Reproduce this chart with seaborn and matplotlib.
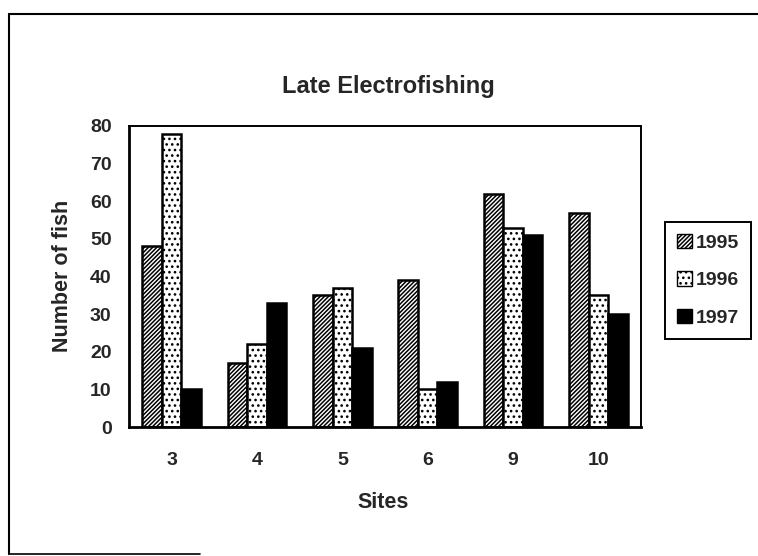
import matplotlib
matplotlib.use("Agg")
import matplotlib.pyplot as plt
import seaborn as sns
import pandas as pd
from matplotlib.patches import Patch
from matplotlib.lines import Line2D

sites = ["3", "4", "5", "6", "9", "10"]
years = ["1995", "1996", "1997"]
fish_1995 = [48, 17, 35, 39, 62, 57]
fish_1996 = [78, 22, 37, 10, 53, 35]
fish_1997 = [10, 33, 21, 12, 51, 30]
yticks = [0, 10, 20, 30, 40, 50, 60, 70, 80]

title = "Late Electrofishing"
xlabel = "Sites"
ylabel = "Number of fish"

rows = []
for yr, vals in zip(years, [fish_1995, fish_1996, fish_1997]):
    for s, v in zip(sites, vals):
        rows.append({"Site": s, "Year": yr, "Fish": v})
df = pd.DataFrame(rows)

sns.set_theme(style="white")
plt.rcParams["font.family"] = ["Liberation Sans", "DejaVu Sans"]
plt.rcParams["font.weight"] = "bold"
plt.rcParams["hatch.linewidth"] = 1.1
plt.rcParams["hatch.color"] = "black"

W, H = 758, 556
fig = plt.figure(figsize=(W / 100, H / 100), dpi=100)
fig.patch.set_facecolor("white")
L, R, T, B = 129, 641, 126, 427
ax = fig.add_axes([L / W, 1 - B / H, (R - L) / W, (B - T) / H])

sns.barplot(data=df, x="Site", y="Fish", hue="Year", order=sites, hue_order=years,
            palette=["white", "white", "black"], edgecolor="black", linewidth=1.8,
            width=0.69, gap=0, errorbar=None, legend=False, ax=ax)

hatches = ["////////", "...", None]
for cont, h in zip(ax.containers, hatches):
    for p in cont:
        if h:
            p.set_hatch(h)

ax.set_ylim(0, 80)
ax.set_xlim(-0.5, len(sites) - 0.5)
ax.set_yticks(yticks)
ax.set_yticklabels([str(v) for v in yticks], fontsize=14, fontweight="bold")
ax.set_xticks(range(len(sites)))
ax.set_xticklabels(sites, fontsize=14, fontweight="bold")
ax.set_xticks([i - 0.5 for i in range(len(sites) + 1)], minor=True)
ax.tick_params(axis="x", which="major", length=0, pad=18)
ax.tick_params(axis="x", which="minor", length=5, width=1.3, direction="out", color="black")
ax.tick_params(axis="y", which="major", length=7, width=1.3, direction="inout", pad=9, color="black")
ax.set_xlabel("")
ax.set_ylabel("")
ax.grid(False)
for side in ["left", "bottom"]:
    ax.spines[side].set_linewidth(2.0)
    ax.spines[side].set_color("black")
for side in ["top", "right"]:
    ax.spines[side].set_linewidth(1.4)
    ax.spines[side].set_color("black")

fig.text(388 / W, 1 - 86 / H, title, ha="center", va="center", fontsize=17, fontweight="bold")
fig.text(383 / W, 1 - 502 / H, xlabel, ha="center", va="center", fontsize=15.5, fontweight="bold")
fig.text(62 / W, 1 - 276 / H, ylabel, ha="center", va="center", rotation=90, fontsize=15.5, fontweight="bold")

handles = [Patch(facecolor="white", edgecolor="black", hatch="////////", linewidth=1.0),
           Patch(facecolor="white", edgecolor="black", hatch="...", linewidth=1.0),
           Patch(facecolor="black", edgecolor="black", linewidth=1.0)]
leg = fig.legend(handles, years, loc="upper left", bbox_to_anchor=(665 / W, 1 - 222 / H),
                 frameon=True, fancybox=False, edgecolor="black", framealpha=1,
                 prop={"size": 14, "weight": "bold"}, handlelength=0.75, handleheight=0.75,
                 handletextpad=0.2, labelspacing=1.0, borderpad=0.62, borderaxespad=0)
leg.get_frame().set_linewidth(1.4)

# outer chart-area frame (top and left edges visible in the scan)
fig.add_artist(Line2D([9 / W, 1.0], [1 - 14 / H, 1 - 14 / H], color="black", lw=1.5,
                      transform=fig.transFigure))
fig.add_artist(Line2D([9 / W, 9 / W], [1 - 14 / H, 1 - 554 / H], color="black", lw=1.5,
                      transform=fig.transFigure))
fig.add_artist(Line2D([9 / W, 200 / W], [1 - 554 / H, 1 - 554 / H], color="black", lw=1.2,
                      transform=fig.transFigure))

fig.savefig("out.png", dpi=100)
